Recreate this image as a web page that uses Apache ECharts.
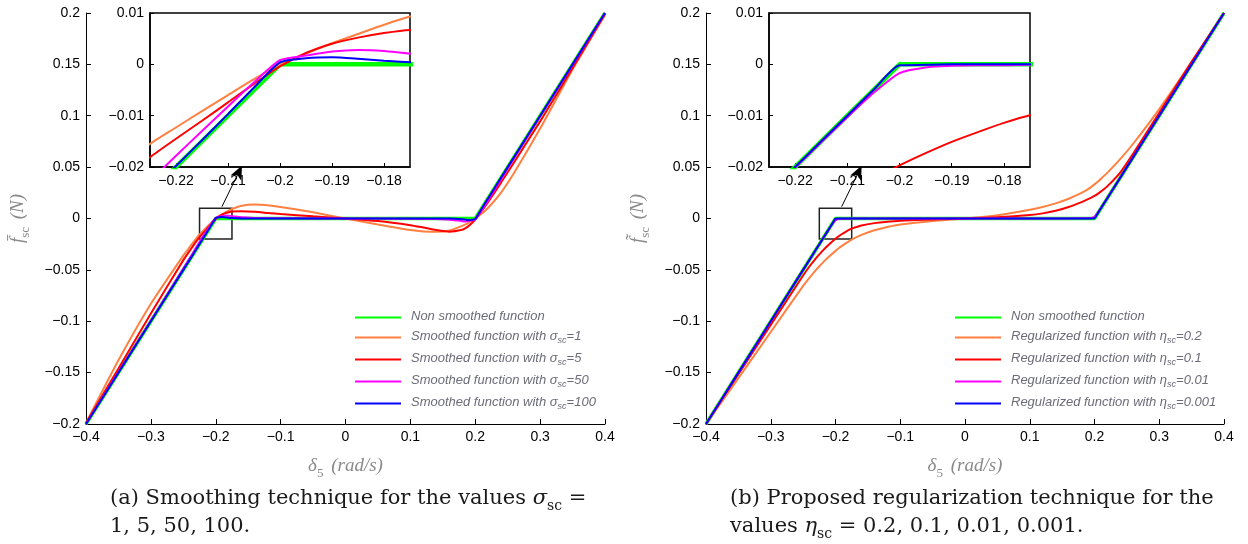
<!DOCTYPE html>
<html><head><meta charset="utf-8">
<script src="https://cdn.jsdelivr.net/npm/echarts@6/dist/echarts.min.js"></script>
<style>html,body{margin:0;padding:0;background:#fff}#c{width:1248px;height:544px}</style>
</head><body><div id="c"></div>
<script>
// ---- data ----
const xs = [-0.4,-0.35,-0.3,-0.25,-0.24,-0.23,-0.225,-0.22,-0.215,-0.21,-0.205,-0.2,-0.195,-0.19,-0.185,-0.18,-0.175,-0.16,-0.14,-0.12,-0.1,-0.05,0,0.05,0.1,0.12,0.14,0.16,0.18,0.185,0.19,0.195,0.2,0.205,0.21,0.22,0.24,0.26,0.3,0.35,0.4];
const greenX = [-0.4,-0.2,0.2,0.4];
const greenY = [-0.2,0,0,0.2];
// panel (a): smoothing
const aOrange = [-0.199,-0.138,-0.083,-0.036,-0.0277,-0.0194,-0.0155,-0.0123,-0.0091,-0.0060,-0.0029,0.0000,0.0021,0.0041,0.0059,0.0077,0.0093,0.0125,0.0137,0.0130,0.0113,0.0060,0,-0.0058,-0.0112,-0.0126,-0.0130,-0.0117,-0.0072,-0.0058,-0.0040,-0.0021,0,0.0023,0.0048,0.0105,0.0255,0.0445,0.0875,0.145,0.198];
const aRed = [-0.199,-0.146,-0.0925,-0.0405,-0.0313,-0.0222,-0.0181,-0.0145,-0.0110,-0.0074,-0.0038,-0.0004,0.0022,0.0040,0.0052,0.0061,0.0067,0.0071,0.0065,0.0054,0.0043,0.0021,0,-0.0025,-0.0065,-0.0088,-0.0112,-0.0128,-0.0110,-0.0094,-0.0072,-0.0044,-0.0010,0.0030,0.0073,0.0162,0.0352,0.0548,0.0945,0.1465,0.199];
const aMagenta = [-0.2,-0.1495,-0.0992,-0.0486,-0.0385,-0.0281,-0.0228,-0.0178,-0.0130,-0.0082,-0.0035,0.0008,0.0017,0.0025,0.0028,0.0026,0.0021,0.0012,0.0006,0.0004,0.0003,0.0001,0,-0.0001,-0.0003,-0.0004,-0.0006,-0.0012,-0.0026,-0.0028,-0.0025,-0.0017,-0.0008,0.0035,0.0082,0.0178,0.0385,0.0588,0.0992,0.1495,0.2];
const aBlue = [-0.2,-0.15,-0.1,-0.05,-0.04,-0.0299,-0.0248,-0.0198,-0.0148,-0.0097,-0.0045,0.0004,0.0012,0.0014,0.0011,0.0007,0.0004,0.0001,0,0,0,0,0,0,0,0,0,-0.0001,-0.0007,-0.0011,-0.0014,-0.0012,-0.0004,0.0045,0.0097,0.0198,0.04,0.06,0.1,0.15,0.2];
// panel (b): regularization
const bOrange = [-0.2,-0.1555,-0.1105,-0.0655,-0.0575,-0.0500,-0.0465,-0.0432,-0.0400,-0.0370,-0.0342,-0.0315,-0.0290,-0.0267,-0.0245,-0.0225,-0.0206,-0.0160,-0.0115,-0.0082,-0.0058,-0.0024,0,0.0032,0.0085,0.0112,0.0147,0.0192,0.0250,0.0267,0.0286,0.0308,0.0332,0.0358,0.0386,0.0446,0.0580,0.0730,0.1065,0.1525,0.2];
const bRed = [-0.2,-0.1515,-0.1035,-0.0555,-0.0465,-0.0385,-0.0349,-0.0315,-0.0283,-0.0253,-0.0224,-0.0197,-0.0173,-0.0151,-0.0132,-0.0114,-0.0099,-0.0068,-0.0045,-0.0031,-0.0022,-0.0009,0,0.0012,0.0034,0.0050,0.0075,0.0112,0.0160,0.0174,0.0189,0.0204,0.0220,0.0240,0.0262,0.0315,0.0450,0.0635,0.1030,0.1525,0.2];
const bMagenta = [-0.2,-0.15,-0.1,-0.05,-0.04,-0.03,-0.0251,-0.0201,-0.0152,-0.0103,-0.0056,-0.0017,-0.0006,-0.0003,-0.0002,-0.0002,-0.0001,-0.0001,0,0,0,0,0,0,0,0,0,0.0001,0.0002,0.0002,0.0003,0.0006,0.0017,0.0056,0.0103,0.0201,0.04,0.06,0.1,0.15,0.2];
const bBlue = [-0.2,-0.15,-0.1,-0.05,-0.04,-0.03,-0.025,-0.02,-0.015,-0.01,-0.005,-0.0002,-0.0001,0,0,0,0,0,0,0,0,0,0,0,0,0,0,0,0,0,0,0.0001,0.0002,0.005,0.01,0.02,0.04,0.06,0.1,0.15,0.2];
// zoom box and arrow (data coordinates)
const zoomBox = [[-0.225,-0.02],[-0.175,0.01]];
const arrowPts = [[-0.1905,0.0115],[-0.1595,0.0515]];
const mainXTicks = [-0.4,0.4,0.1];
const mainYTicks = [-0.2,0.2,0.05];
const insetXTicks = [-0.22,-0.21,-0.2,-0.19,-0.18];
const insetYTicks = [-0.02,0.01,0.01];

const namesA = ['Non smoothed function','Smoothed function with σ_sc=1','Smoothed function with σ_sc=5','Smoothed function with σ_sc=50','Smoothed function with σ_sc=100'];
const namesB = ['Non smoothed function','Regularized function with η_sc=0.2','Regularized function with η_sc=0.1','Regularized function with η_sc=0.01','Regularized function with η_sc=0.001'];
const colors = ['#00ff00','#ff8040','#ff0000','#ff00ff','#0000ff'];
const widths = [3.5,2,2,2,2];

const pair = (ys) => xs.map((x,i)=>[x, ys[i]]);
const greenData = greenX.map((x,i)=>[x, greenY[i]]);
const fmt = v => (Math.round(v*1000)/1000).toString().replace('-', '\u2212');

const tickFont = {fontFamily:'Liberation Sans, Arial, sans-serif', fontSize:14, color:'#000'};
const nameRich = {
  i:{fontFamily:'Liberation Serif', fontStyle:'italic', fontSize:19, color:'#8a8a8a', verticalAlign:'top', lineHeight:24},
  s:{fontFamily:'Liberation Serif', fontSize:13, color:'#8a8a8a', verticalAlign:'bottom', lineHeight:24},
  g:{fontSize:14, lineHeight:24}};

function mainAxes(gi){
  return {
    x: {type:'value', gridIndex:gi, min:mainXTicks[0], max:mainXTicks[1], interval:mainXTicks[2],
      axisLine:{show:true, onZero:false, lineStyle:{color:'#000', width:1}},
      axisTick:{show:true, inside:true, length:5, lineStyle:{color:'#000'}},
      axisLabel:Object.assign({formatter:fmt, margin:6}, tickFont),
      splitLine:{show:false},
      name:'{i|δ}{s|5}{g|  }{i|(rad/s)}', nameLocation:'middle', nameGap:32,
      nameTextStyle:{rich:nameRich}},
    y: {type:'value', gridIndex:gi, min:mainYTicks[0], max:mainYTicks[1], interval:mainYTicks[2],
      axisLine:{show:true, onZero:false, lineStyle:{color:'#000', width:1}},
      axisTick:{show:true, inside:true, length:5, lineStyle:{color:'#000'}},
      axisLabel:Object.assign({formatter:fmt, margin:6}, tickFont),
      splitLine:{show:false},
      nameLocation:'middle', nameRotate:90, nameGap:54,
      nameTextStyle:{rich:nameRich}}
  };
}
function insetAxes(gi){
  return {
    x:{type:'value', gridIndex:gi, min:zoomBox[0][0], max:zoomBox[1][0], z:12,
      axisLine:{show:true, onZero:false, lineStyle:{color:'#000', width:1.5}},
      axisTick:{show:true, inside:true, length:4, customValues:insetXTicks, lineStyle:{color:'#000'}},
      axisLabel:Object.assign({formatter:fmt, margin:7, customValues:insetXTicks}, tickFont),
      splitLine:{show:false}},
    y:{type:'value', gridIndex:gi, min:insetYTicks[0], max:insetYTicks[1], interval:insetYTicks[2], z:12,
      axisLine:{show:true, onZero:false, lineStyle:{color:'#000', width:1.5}},
      axisTick:{show:true, inside:true, length:4, lineStyle:{color:'#000'}},
      axisLabel:Object.assign({formatter:fmt, margin:6}, tickFont),
      splitLine:{show:false}}
  };
}
const mA = mainAxes(0), mB = mainAxes(1), iA = insetAxes(2), iB = insetAxes(3);
mA.y.name = '{i|f\u0304}{s|sc}{g|  }{i|(N)}';
mB.y.name = '{i|f\u0303}{s|sc}{g|  }{i|(N)}';

const series = [];
function addPanel(names, ys, mainIdx, insetIdx){
  const all = [greenData].concat(ys.map(pair));
  [mainIdx, insetIdx].forEach((ai, k) => {
    all.forEach((d, j) => {
      series.push({type:'line', name:names[j], xAxisIndex:ai, yAxisIndex:ai, data:d,
        showSymbol:false, symbol:'none', smooth: j===0 ? false : 0.2,
        lineStyle:{color:colors[j], width:widths[j] + (k===1 && j===0 ? 1 : 0)}, itemStyle:{color:colors[j]},
        z: k===1 ? 13 + j*0.01 : 2 + j*0.01, clip:true, silent:true, animation:false});
    });
  });
  series.push({type:'line', name:'box', xAxisIndex:mainIdx, yAxisIndex:mainIdx, data:[arrowPts[0]],
    showSymbol:false, symbol:'none', z:20, silent:true, animation:false,
    markArea:{silent:true, itemStyle:{color:'rgba(0,0,0,0)', borderColor:'#222', borderWidth:1.5},
      data:[[{coord:zoomBox[0]},{coord:zoomBox[1]}]]},
    markLine:{silent:true, symbol:['none','arrow'], symbolSize:[9,14], label:{show:false},
      lineStyle:{color:'#000', width:1, type:'solid'},
      data:[[{coord:arrowPts[0]},{coord:arrowPts[1]}]]}});
}
addPanel(namesA, [aOrange,aRed,aMagenta,aBlue], 0, 2);
addPanel(namesB, [bOrange,bRed,bMagenta,bBlue], 1, 3);

const legRich = {
  t:{fontFamily:'Liberation Sans, Arial', fontStyle:'italic', fontSize:13, color:'#6c6c78', verticalAlign:'top', lineHeight:15},
  s:{fontFamily:'Liberation Sans, Arial', fontStyle:'italic', fontSize:9, color:'#6c6c78', verticalAlign:'bottom', lineHeight:15}
};
const legFmt = n => { const p = n.split('_sc'); return p.length>1 ? '{t|'+p[0]+'}{s|sc}{t|'+p[1]+'}' : '{t|'+n+'}'; };
function legend(names, left){
  return {data:names, left:left, top:310, padding:0, orient:'vertical', itemWidth:46, itemHeight:2, icon:'rect',
    itemGap:7, formatter:legFmt, selectedMode:false, textStyle:{rich:legRich, padding:[0,0,0,5]}};
}
const capRich = {
  r:{fontFamily:'DejaVu Serif', fontWeight:'normal', fontSize:21, color:'#1a1a1a', lineHeight:28},
  i:{fontFamily:'DejaVu Serif', fontWeight:'normal', fontStyle:'italic', fontSize:21, color:'#1a1a1a', lineHeight:28},
  s:{fontFamily:'DejaVu Serif', fontWeight:'normal', fontSize:14, color:'#1a1a1a', lineHeight:28, verticalAlign:'bottom'}
};
const chart = echarts.init(document.getElementById('c'), null, {renderer:'canvas'});
chart.setOption({
  animation:false,
  grid:[
    {left:86, top:13, width:519, height:411, show:false},
    {left:706, top:13, width:518, height:411, show:false},
    {left:150, top:13, width:260, height:154, show:true, backgroundColor:'#fff', borderColor:'#000', borderWidth:1.5, z:10},
    {left:769, top:13, width:261, height:154, show:true, backgroundColor:'#fff', borderColor:'#000', borderWidth:1.5, z:10}
  ],
  xAxis:[mA.x, mB.x, iA.x, iB.x],
  yAxis:[mA.y, mB.y, iA.y, iB.y],
  legend:[legend(namesA, 355), legend(namesB, 955)],
  title:[
    {left:110, top:485, padding:0, text:'{r|(a) Smoothing technique for the values }{i|σ}{s|sc}{r| =}\n{r|1, 5, 50, 100.}', textStyle:{fontWeight:'normal', rich:capRich}},
    {left:730, top:485, padding:0, text:'{r|(b) Proposed regularization technique for the}\n{r|values }{i|η}{s|sc}{r| = 0.2, 0.1, 0.01, 0.001.}', textStyle:{fontWeight:'normal', rich:capRich}}
  ],
  series:series
});
</script></body></html>
